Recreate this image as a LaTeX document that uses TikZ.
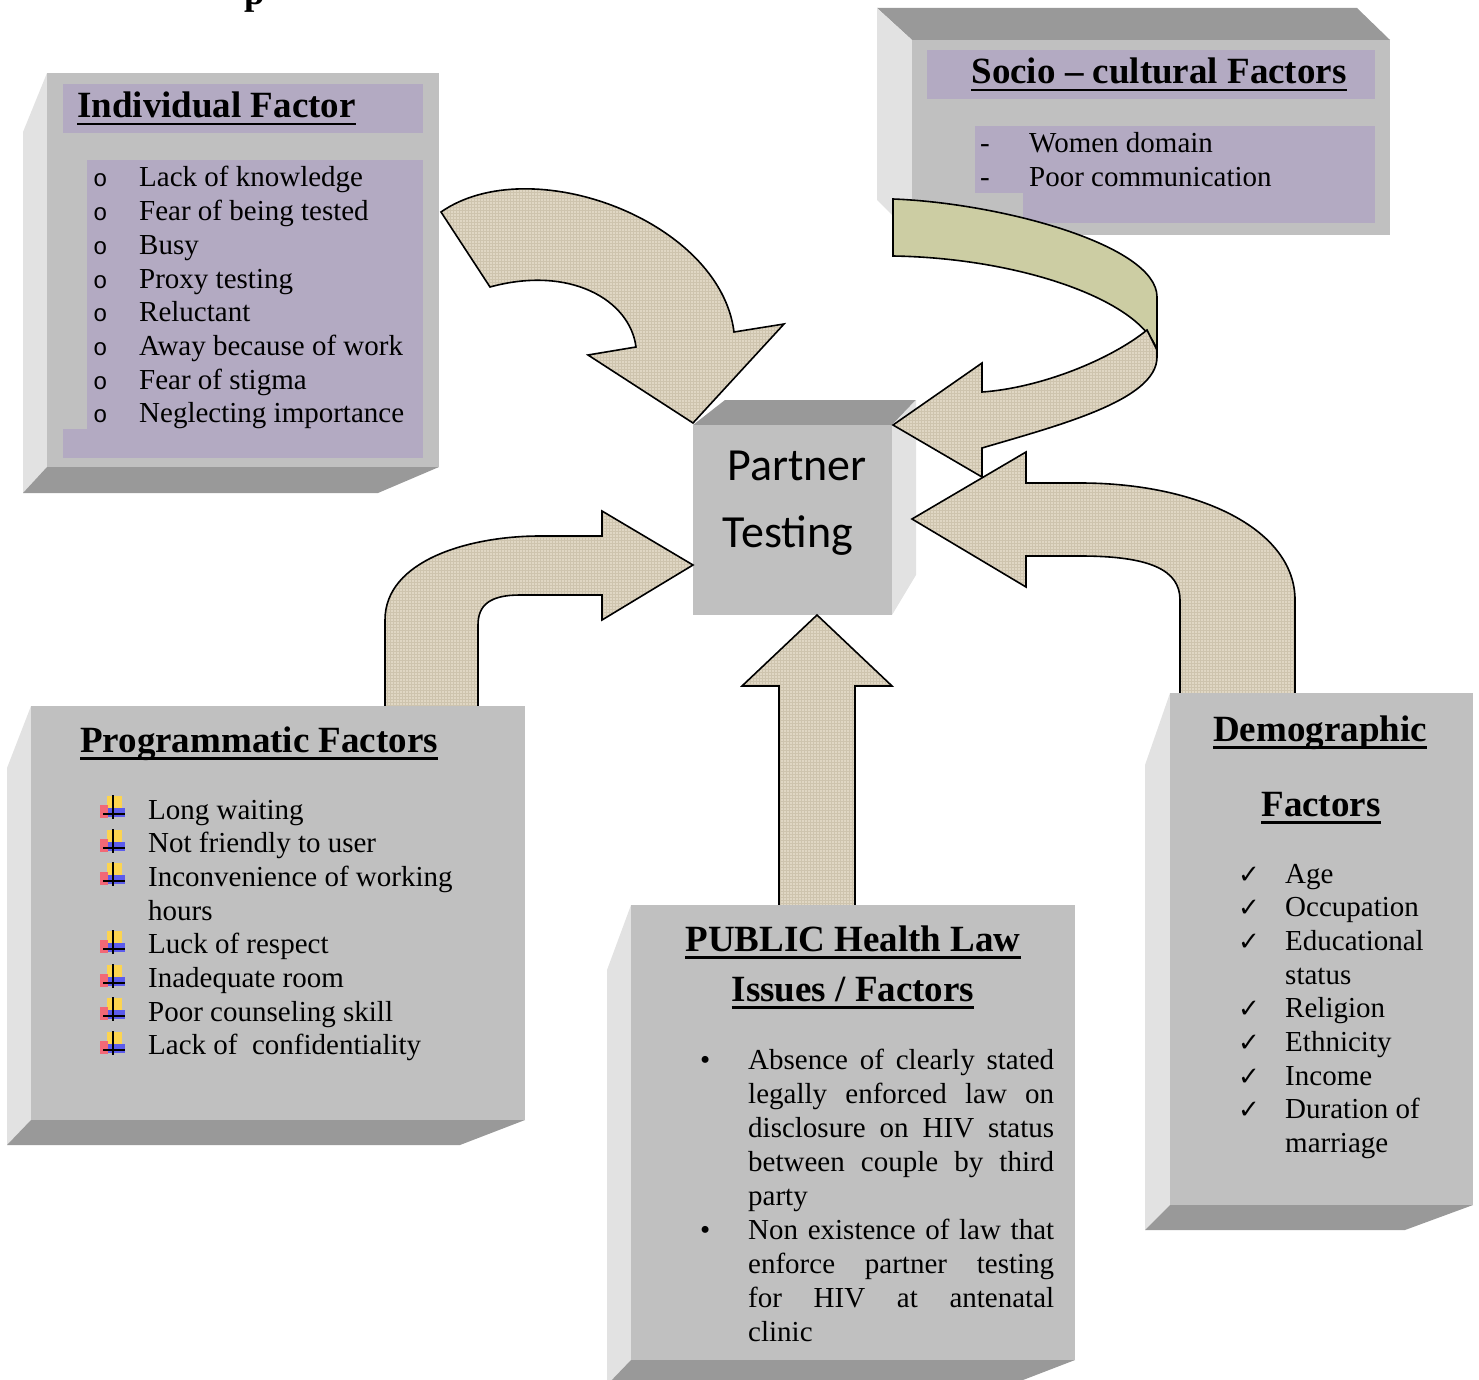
\documentclass[tikz,border=0pt]{standalone}
\usepackage{fontspec}
\setmainfont{Liberation Serif}
\newfontfamily\calibri{Carlito}
\newfontfamily\monobullet{Liberation Mono}
\newfontfamily\symbolfont{DejaVu Sans}
\usepackage{tikz}
\usetikzlibrary{patterns}
\tolerance=10000
\hbadness=10000

\definecolor{boxgray}{RGB}{192,192,192}
\definecolor{sidelight}{RGB}{226,226,226}
\definecolor{sidedark}{RGB}{153,153,153}
\definecolor{panelpurple}{RGB}{179,170,194}
\definecolor{olive}{RGB}{204,205,163}
\definecolor{burlap}{RGB}{224,215,196}
\definecolor{burlapweave}{RGB}{206,196,174}
\definecolor{bulyellow}{RGB}{252,212,80}
\definecolor{bulred}{RGB}{242,104,118}
\definecolor{bulblue}{RGB}{92,92,236}

\tikzset{
  face/.style={fill=boxgray},
  lightside/.style={fill=sidelight},
  darkside/.style={fill=sidedark},
  panel/.style={fill=panelpurple},
  blockarrow/.style={preaction={fill=burlap}, preaction={pattern=grid, pattern color=burlapweave},
    draw=black, line width=1.6pt, line join=miter},
  ribbon/.style={draw=black, line width=1.6pt, fill=olive, line join=miter},
  body/.style={inner sep=0pt, font=\fontsize{29}{33.7}\selectfont},
  heading/.style={inner sep=0pt, font=\bfseries\fontsize{37}{44}\selectfont},
}

% thick underline for the headings
\newsavebox{\headbox}
\newcommand{\headline}[1]{\sbox{\headbox}{#1}\rlap{\rule[-7.5pt]{\wd\headbox}{2.6pt}}\usebox{\headbox}}
% plus bullet, #1 = baseline
\newcommand{\plusbullet}[1]{%
  \fill[bulyellow] (107,#1-23) rectangle (122,#1-11);
  \fill[bulred] (100,#1-14) rectangle (108,#1-1);
  \fill[bulblue] (108,#1-11) rectangle (125,#1-2);
  \draw[line width=1.8pt] (113,#1-24) -- (113,#1);
  \draw[line width=1.8pt] (103,#1-5) -- (125,#1-5);
}
\newcommand{\checkbullet}{{\symbolfont\fontsize{26}{26}\selectfont ✓}}
\newcommand{\ringbullet}{{\monobullet\fontsize{24}{24}\selectfont o}}

\begin{document}
\begin{tikzpicture}[x=1pt,y=-1pt]
        \useasboundingbox (0,0) rectangle (1479,1380);
        % cut heading
        \node[heading, anchor=base] (cuthead) at (255,5) {p};
        % Socio-cultural factors
        \fill[darkside] (877,8) -- (1357,8) -- (1390,40) -- (912,40) -- cycle;
        \fill[lightside] (877,8) -- (912,40) -- (912,235) -- (877,200) -- cycle;
        \fill[face] (912,40) rectangle (1390,235);
        \fill[panel] (927,50) rectangle (1375,99);
        \fill[panel] (975,126) rectangle (1375,193);
        \fill[panel] (1023,193) rectangle (1375,223);
        \node[heading, anchor=base] (sochead) at (1159,84) {\headline{Socio – cultural Factors}};
        \node[body, anchor=base west] (soclist) at (980,153) {\begin{tabular}[t]{@{}p{49pt}@{}l@{}}
          - & Women domain\\
          - & Poor communication
        \end{tabular}};
        % Individual factor
        \fill[lightside] (23,132) -- (47,73) -- (47,467) -- (23,493) -- cycle;
        \fill[darkside] (47,467) -- (439,467) -- (378,493) -- (23,493) -- cycle;
        \fill[face] (47,73) rectangle (439,467);
        \fill[panel] (63,84) rectangle (423,133);
        \fill[panel] (87,160) rectangle (423,458);
        \fill[panel] (63,429) rectangle (423,458);
        \node[heading, anchor=base west] (indhead) at (77,118) {\headline{Individual Factor}};
        \node[body, anchor=base west] (indlist) at (93,187) {\begin{tabular}[t]{@{}p{46pt}@{}l@{}}
          \ringbullet & Lack of knowledge\\
          \ringbullet & Fear of being tested\\
          \ringbullet & Busy\\
          \ringbullet & Proxy testing\\
          \ringbullet & Reluctant\\
          \ringbullet & Away because of work\\
          \ringbullet & Fear of stigma\\
          \ringbullet & Neglecting importance
        \end{tabular}};
        % Partner testing
        \fill[darkside] (693,425) -- (725,400) -- (916,400) -- (892,425) -- cycle;
        \fill[lightside] (892,425) -- (916,400) -- (916,575) -- (892,615) -- cycle;
        \fill[face] (693,425) rectangle (892,615);
        \node[inner sep=0pt, font=\calibri\fontsize{46}{55}\selectfont, anchor=base] (partner) at (797,480) {Partner};
        \node[inner sep=0pt, font=\calibri\fontsize{46}{55}\selectfont, anchor=base] (testing) at (788,547) {Testing};
        % arrow from individual factor
        \draw[blockarrow] (441,212) .. controls (530,150) and (720,220) .. (734,332) -- (784,324)
              -- (693,423) -- (588,355) -- (636,347) .. controls (630,300) and (570,265) .. (490,287) -- cycle;
        % arrow from socio-cultural factors
        \draw[ribbon] (893,199) .. controls (1000,203) and (1157,245) .. (1157,297) -- (1157,350)
              .. controls (1140,300) and (1020,258) .. (893,256) -- cycle;
        \draw[blockarrow] (1147,330) .. controls (1110,360) and (1040,388) .. (982,392) -- (982,363) -- (893,425)
              -- (982,477) -- (982,448) .. controls (1060,425) and (1157,400) .. (1157,357) -- (1157,350) -- cycle;
        % arrow from demographic factors
        \draw[blockarrow] (1180,700) -- (1180,600) .. controls (1180,570) and (1150,556) .. (1080,556) -- (1026,556)
              -- (1026,587) -- (912,519) -- (1026,452) -- (1026,483) -- (1080,483)
              .. controls (1200,483) and (1295,530) .. (1295,600) -- (1295,700) -- cycle;
        % arrow from programmatic factors
        \draw[blockarrow] (385,712) -- (385,620) .. controls (385,560) and (470,536) .. (540,536) -- (602,536)
              -- (602,511) -- (693,565) -- (602,620) -- (602,595) -- (520,595)
              .. controls (490,595) and (478,605) .. (478,625) -- (478,712) -- cycle;
        % arrow from public health law
        \draw[blockarrow] (779,912) -- (779,686) -- (742,686) -- (817,615) -- (892,686) -- (855,686) -- (855,912) -- cycle;
        % Programmatic factors
        \fill[lightside] (7,768) -- (31,706) -- (31,1120) -- (7,1145) -- cycle;
        \fill[darkside] (31,1120) -- (525,1120) -- (460,1145) -- (7,1145) -- cycle;
        \fill[face] (31,706) rectangle (525,1120);
        \node[heading, anchor=base west] (proghead) at (80,752) {\headline{Programmatic Factors}};
        \node[body, anchor=base west] (proglist) at (148,819) {\begin{tabular}[t]{@{}l@{}}
          Long waiting\\
          Not friendly to user\\
          Inconvenience of working\\
          hours\\
          Luck of respect\\
          Inadequate room\\
          Poor counseling skill\\
          Lack of~ confidentiality
        \end{tabular}};
        \plusbullet{819}
        \plusbullet{853}
        \plusbullet{886}
        \plusbullet{954}
        \plusbullet{988}
        \plusbullet{1021}
        \plusbullet{1055}
        % Public health law
        \fill[lightside] (607,970) -- (631,905) -- (631,1360) -- (607,1385) -- cycle;
        \fill[darkside] (631,1360) -- (1075,1360) -- (1010,1385) -- (607,1385) -- cycle;
        \fill[face] (631,905) rectangle (1075,1360);
        \node[heading, anchor=base] (lawhead) at (853,951) {\headline{PUBLIC Health Law}};
        \node[heading, anchor=base] (lawsub) at (853,1001) {\headline{Issues / Factors}};
        \node[body, font=\fontsize{29}{34}\selectfont, anchor=base west] (lawlist) at (700,1069) {\begin{tabular}[t]{@{}p{48pt}@{}p{306pt}@{}}
          • & Absence of clearly stated\linebreak legally enforced law on\linebreak disclosure on HIV status\linebreak between couple by third\linebreak party\\
          • & Non existence of law that\linebreak enforce partner testing\linebreak for HIV at antenatal\linebreak clinic
        \end{tabular}};
        % Demographic factors
        \fill[lightside] (1145,765) -- (1170,693) -- (1170,1205) -- (1145,1230) -- cycle;
        \fill[darkside] (1170,1205) -- (1473,1205) -- (1405,1230) -- (1145,1230) -- cycle;
        \fill[face] (1170,693) rectangle (1473,1205);
        \node[heading, anchor=base] (demhead) at (1320,741) {\headline{Demographic}};
        \node[heading, anchor=base] (demsub) at (1321,816) {\headline{Factors}};
        \node[body, anchor=base west] (demlist) at (1238,883) {\begin{tabular}[t]{@{}p{47pt}@{}l@{}}
          \checkbullet & Age\\
          \checkbullet & Occupation\\
          \checkbullet & Educational\\
          & status\\
          \checkbullet & Religion\\
          \checkbullet & Ethnicity\\
          \checkbullet & Income\\
          \checkbullet & Duration of\\
          & marriage
        \end{tabular}};
\end{tikzpicture}
\end{document}
